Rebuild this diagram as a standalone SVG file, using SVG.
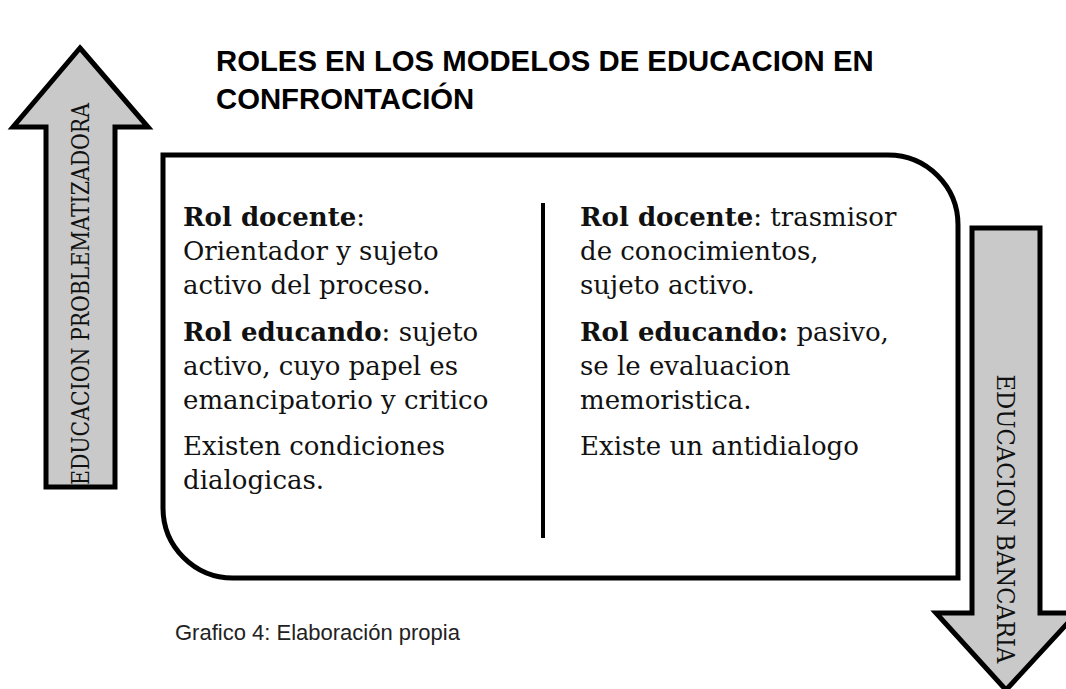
<svg xmlns="http://www.w3.org/2000/svg" width="1066" height="689" viewBox="0 0 1066 689">
<style>
.arrow{fill:#c9c9c9;stroke:#000;stroke-width:5;stroke-linejoin:miter}
.atext{font-family:"DejaVu Serif","Liberation Serif",serif;font-size:24px;fill:#111}
.body{font-family:"DejaVu Serif","Liberation Serif",serif;font-size:26px;fill:#111}
.b{font-weight:bold}
.title{font-family:"Liberation Sans",Arial,sans-serif;font-size:29.3px;font-weight:bold;fill:#000}
.cap{font-family:"Liberation Sans",Arial,sans-serif;font-size:22px;fill:#222}
</style>
<rect width="1066" height="689" fill="#fff"/>
<g id="title">
<text class="title" x="216" y="71">ROLES EN LOS MODELOS DE EDUCACION EN</text>
<text class="title" x="216" y="109">CONFRONTACIÓN</text>
</g>
<g id="arrow-problematizadora">
<polygon class="arrow" points="80,48 148,127 115,127 115,487 46,487 46,127 13,127"/>
<text class="atext" transform="translate(89,294) rotate(-90)" text-anchor="middle" textLength="382" lengthAdjust="spacingAndGlyphs">EDUCACION PROBLEMATIZADORA</text>
</g>
<g id="arrow-bancaria">
<polygon class="arrow" points="972,228 1040,228 1040,613 1077,613 1006,690 936,613 972,613"/>
<text class="atext" transform="translate(997,519) rotate(90)" text-anchor="middle" textLength="289" lengthAdjust="spacingAndGlyphs">EDUCACION BANCARIA</text>
</g>
<g id="box">
<path d="M163,155 H888 A70,70 0 0 1 958,225 V578 H233 A70,70 0 0 1 163,508 Z" fill="#fff" stroke="#000" stroke-width="5"/>
</g>
<g id="connectors">
<line x1="543" y1="203" x2="543" y2="538" stroke="#000" stroke-width="4"/>
</g>
<g id="left-column">
<text class="body" x="183" y="226"><tspan class="b">Rol docente</tspan>:</text>
<text class="body" x="183" y="260">Orientador y sujeto</text>
<text class="body" x="183" y="294">activo del proceso.</text>
<text class="body" x="183" y="341"><tspan class="b">Rol educando</tspan>: sujeto</text>
<text class="body" x="183" y="375">activo, cuyo papel es</text>
<text class="body" x="183" y="409">emancipatorio y critico</text>
<text class="body" x="183" y="455">Existen condiciones</text>
<text class="body" x="183" y="489">dialogicas.</text>
</g>
<g id="right-column">
<text class="body" x="580" y="226"><tspan class="b">Rol docente</tspan>: trasmisor</text>
<text class="body" x="580" y="260">de conocimientos,</text>
<text class="body" x="580" y="294">sujeto activo.</text>
<text class="body" x="580" y="341"><tspan class="b">Rol educando:</tspan> pasivo,</text>
<text class="body" x="580" y="375">se le evaluacion</text>
<text class="body" x="580" y="409">memoristica.</text>
<text class="body" x="580" y="455">Existe un antidialogo</text>
</g>
<g id="caption">
<text class="cap" x="175" y="640">Grafico 4: Elaboración propia</text>
</g>
</svg>
